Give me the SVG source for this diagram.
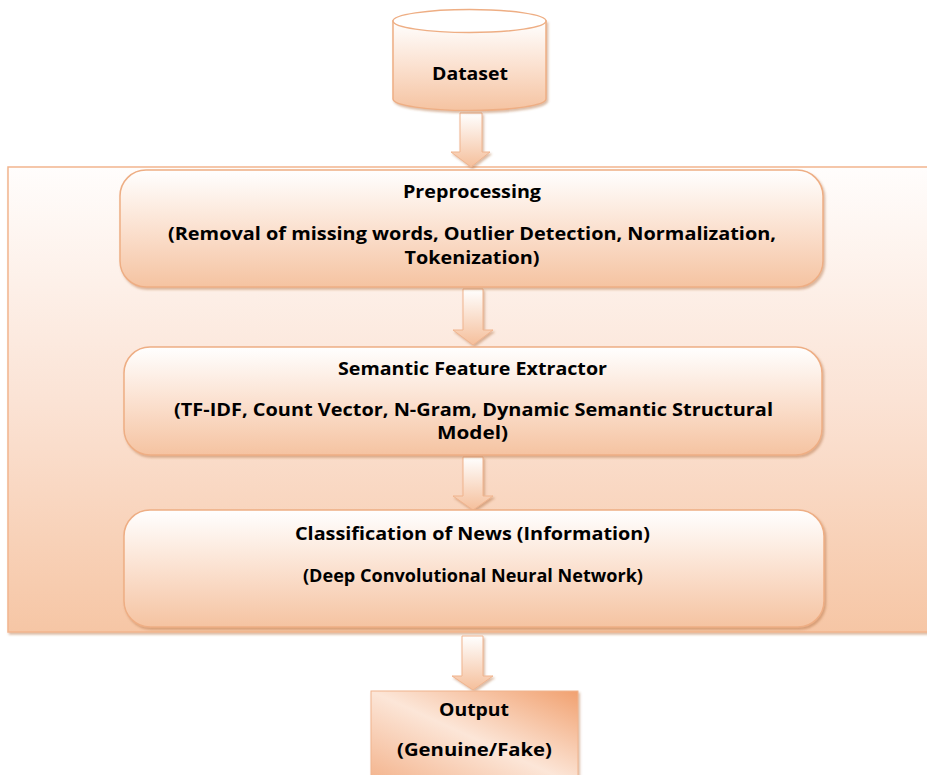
<svg xmlns="http://www.w3.org/2000/svg" width="927" height="775" viewBox="0 0 927 775">
<style>
  .t { font-family: "Open Sans", "Liberation Sans", sans-serif; font-weight: bold; font-size: 18px; fill: #000; text-anchor: middle; }
  .box { fill: url(#boxGrad); stroke: #eeae84; stroke-width: 1.5; filter: url(#sh); }
  .arrow { fill: url(#arrGrad); stroke: #f0b48e; stroke-width: 1; filter: url(#sh); }
</style>
<defs>
  <linearGradient id="contGrad" x1="0" y1="0" x2="0" y2="1">
    <stop offset="0" stop-color="#fffdfc"/>
    <stop offset="0.5" stop-color="#fbe3d5"/>
    <stop offset="1" stop-color="#f6c6a5"/>
  </linearGradient>
  <linearGradient id="boxGrad" x1="0" y1="0" x2="0" y2="1">
    <stop offset="0" stop-color="#ffffff"/>
    <stop offset="0.5" stop-color="#fbe1d0"/>
    <stop offset="1" stop-color="#f5c3a1"/>
  </linearGradient>
  <linearGradient id="arrGrad" x1="0" y1="0" x2="0" y2="1">
    <stop offset="0" stop-color="#ffffff"/>
    <stop offset="1" stop-color="#f5bf9b"/>
  </linearGradient>
  <linearGradient id="outGrad" x1="1" y1="0" x2="0" y2="1">
    <stop offset="0" stop-color="#f1a170"/>
    <stop offset="0.5" stop-color="#fce6d8"/>
    <stop offset="1" stop-color="#f3b189"/>
  </linearGradient>
  <filter id="sh" x="-10%" y="-10%" width="120%" height="130%">
    <feDropShadow dx="1.5" dy="2" stdDeviation="1.2" flood-color="#b06a3c" flood-opacity="0.45"/>
  </filter>
</defs>

<g id="container">
  <rect x="8" y="167" width="930" height="465" fill="url(#contGrad)" stroke="#f2b58e" stroke-width="1.5" filter="url(#sh)"/>
</g>

<g id="connectors">
  <path class="arrow" d="M460 113 H482 V152 H490 L471 167 L451 152 H460 Z"/>
  <path class="arrow" d="M463 289 H483 V330 H493 L473 345 L453 330 H463 Z"/>
  <path class="arrow" d="M463 457 H483 V496 H493 L473 510 L453 496 H463 Z"/>
  <path class="arrow" d="M462 636 H483 V676 H493 L473 690 L452 676 H462 Z"/>
</g>

<g id="dataset">
  <path d="M393 21 V99 A76.5 11.5 0 0 0 546 99 V21 Z" fill="url(#boxGrad)" stroke="#eeae84" stroke-width="1.5" filter="url(#sh)"/>
  <ellipse cx="469.5" cy="21" rx="76.5" ry="11.5" fill="#ffffff" stroke="#eeae84" stroke-width="1.5"/>
  <text class="t" x="470" y="80" textLength="76" lengthAdjust="spacingAndGlyphs">Dataset</text>
</g>

<g id="preprocessing">
  <rect class="box" x="120" y="170" width="703" height="117" rx="26"/>
  <text class="t" x="472" y="198" textLength="138" lengthAdjust="spacingAndGlyphs">Preprocessing</text>
  <text class="t" x="472" y="240" textLength="608" lengthAdjust="spacingAndGlyphs">(Removal of missing words, Outlier Detection, Normalization,</text>
  <text class="t" x="472" y="264" textLength="135" lengthAdjust="spacingAndGlyphs">Tokenization)</text>
</g>

<g id="feature-extractor">
  <rect class="box" x="124" y="347" width="698" height="108" rx="26"/>
  <text class="t" x="472.5" y="375" textLength="269" lengthAdjust="spacingAndGlyphs">Semantic Feature Extractor</text>
  <text class="t" x="473.5" y="416" textLength="599" lengthAdjust="spacingAndGlyphs">(TF-IDF, Count Vector, N-Gram, Dynamic Semantic Structural</text>
  <text class="t" x="472.5" y="439" textLength="71" lengthAdjust="spacingAndGlyphs">Model)</text>
</g>

<g id="classification">
  <rect class="box" x="124" y="510" width="700" height="117" rx="26"/>
  <text class="t" x="472.5" y="540" textLength="355" lengthAdjust="spacingAndGlyphs">Classification of News (Information)</text>
  <text class="t" x="473" y="582" textLength="340" lengthAdjust="spacingAndGlyphs">(Deep Convolutional Neural Network)</text>
</g>

<g id="output">
  <rect x="371" y="691" width="207" height="95" fill="url(#outGrad)" stroke="#f0b48e" stroke-width="1" filter="url(#sh)"/>
  <text class="t" x="474" y="716" textLength="70" lengthAdjust="spacingAndGlyphs">Output</text>
  <text class="t" x="474.5" y="756" textLength="155" lengthAdjust="spacingAndGlyphs">(Genuine/Fake)</text>
</g>
</svg>
